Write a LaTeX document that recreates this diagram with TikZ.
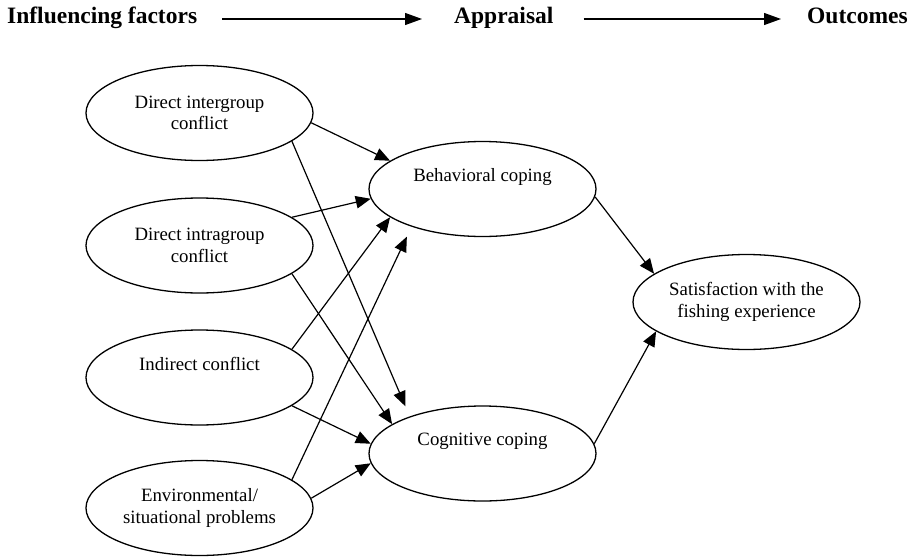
\documentclass[tikz,border=0pt]{standalone}
\usepackage{fontspec}
\setmainfont{Liberation Serif}
\usetikzlibrary{shapes.geometric,arrows.meta}

\begin{document}
\begin{tikzpicture}[x=1pt,y=-1pt,
  factorbox/.style={ellipse,draw,line width=1.3pt,minimum width=227pt,minimum height=95pt,
    inner sep=0pt,align=center,font=\fontsize{18.8pt}{21.5pt}\selectfont},
  linkarrow/.style={line width=1.2pt,-{Triangle[length=15pt,width=12.5pt]}},
  stagelabel/.style={inner sep=0pt,anchor=west,text height=14pt,text depth=6pt,
    font=\fontsize{23.5pt}{28pt}\selectfont\bfseries},
  flowarrow/.style={line width=1.2pt,-{Triangle[length=17pt,width=12pt]}}]
\useasboundingbox (0,0) rectangle (918,557);

% stage headings
\node[stagelabel] (inf) at (7,19) {Influencing factors};
\node[stagelabel] (app) at (454,19) {Appraisal};
\node[stagelabel] (out) at (807,19) {Outcomes};
\draw[flowarrow,shorten <=25pt,shorten >=32pt] (inf.east) -- (app.west);
\draw[flowarrow,shorten <=30pt,shorten >=26pt] (app.east) -- (out.west);

% influencing factors
\node[factorbox] (inter) at (199.5,113) {Direct intergroup\\conflict};
\node[factorbox] (intra) at (199.5,245.5) {Direct intragroup\\conflict};
\node[factorbox] (indir) at (199.5,377.5) {Indirect conflict\\\strut};
\node[factorbox] (env) at (199.5,508) {Environmental/\\situational problems};

% appraisal
\node[factorbox] (beh) at (482.5,189) {Behavioral coping\\\strut};
\node[factorbox] (cog) at (482.5,453.5) {Cognitive coping\\\strut};

% outcome
\node[factorbox] (sat) at (746.5,302) {Satisfaction with the\\fishing experience};

% paths
\draw[linkarrow] (inter.-5) -- (beh.163);
\draw[linkarrow,shorten >=11pt] (inter.-17) -- (cog.153);
\draw[linkarrow] (intra.17) -- (beh.185);
\draw[linkarrow] (intra.-17) -- (cog.162);
\draw[linkarrow] (indir.17) -- (beh.197);
\draw[linkarrow] (indir.-17) -- (cog.175);
\draw[linkarrow,shorten >=11pt] (env.17) -- (beh.208);
\draw[linkarrow] (env.5) -- (cog.185);
\draw[linkarrow] (beh.-4) -- (sat.163);
\draw[linkarrow] (cog.5) -- (sat.198);
\end{tikzpicture}
\end{document}
